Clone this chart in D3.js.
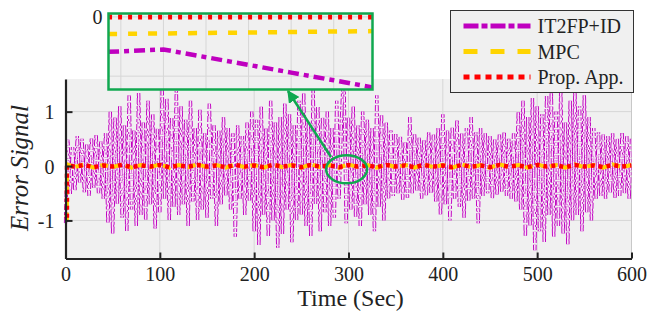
<!DOCTYPE html>
<html>
<head>
<meta charset="utf-8">
<script src="https://cdn.jsdelivr.net/npm/d3@7"></script>
<style>
  body { margin: 0; background: #fff; }
</style>
</head>
<body>
<svg id="chart" width="647" height="329"></svg>
<script>
// tick labels
const timeTicks = [0, 100, 200, 300, 400, 500, 600];
const errTicks = [-1, 0, 1];
const seriesNames = ['IT2FP+ID', 'MPC', 'Prop. App.'];

// IT2FP+ID error, one sample every 2.5 s
const it2fpStep = 2.5;
const it2fpValues = [
  -1.05, 0.48, -0.52, 0.35, -0.45, 0.55, -0.3, 0.5, -0.48, 0.4,
  -0.55, 0.52, -0.4, 0.58, -0.5, 0.45, -0.6, 0.62, -1.05, 1.0,
  -1.25, 0.9, -0.7, 1.1, -0.95, 0.75, -1.2, 1.3, -0.8, 0.65,
  -1.1, 1.35, -0.9, 0.8, -1.0, 1.2, -0.7, 0.95, -1.15, 0.7,
  -0.85, 1.4, -0.6, 1.25, -1.0, 0.9, -0.75, 1.38, -0.9, 1.1,
  -0.7, 0.85, -1.1, 1.2, -0.65, 0.7, -1.0, 1.05, -0.8, 0.6,
  -0.95, 1.15, -0.6, 0.75, -1.1, 0.65, -0.7, 0.9, -0.55, 0.7,
  -0.8, 0.6, -1.3, 0.75, -0.6, 0.55, -0.9, 0.8, -0.65, 1.0,
  -1.2, 0.85, -1.45, 1.1, -0.9, 0.7, -1.3, 1.2, -1.0, 0.8,
  -1.5, 0.9, -1.25, 1.15, -0.8, 0.95, -1.4, 0.75, -1.0, 1.2,
  -0.9, 1.35, -1.1, 0.8, -1.3, 1.4, -0.7, 1.1, -1.2, 0.9,
  -0.85, 1.0, -1.1, 0.7, -0.95, 1.2, -0.6, 0.85, 1.8, -1.05,
  0.9, -0.8, 1.1, -0.95, 0.75, -1.1, 1.0, -0.7, 0.85, -0.9,
  0.7, -1.2, 1.3, -0.75, 0.95, -1.0, 0.8, -0.6, 0.65, -0.55,
  0.6, -0.5, 0.55, -0.62, 0.45, -0.58, 0.9, -0.5, 0.6, -0.45,
  0.52, -0.6, 0.48, -0.55, 0.62, -0.5, 0.58, -0.65, 0.7, -0.9,
  0.95, -0.7, 0.65, -1.0, 0.72, -0.6, 0.85, -0.75, 0.6, -0.95,
  0.7, -0.65, 0.9, -0.6, 0.62, -1.05, 0.7, -0.55, 0.6, -0.5,
  0.55, -0.6, 0.5, -0.52, 0.58, -0.48, 0.62, -0.55, 0.5, -0.6,
  0.6, -0.65, 1.0, -0.8, 1.2, -1.3, 0.9, -1.1, 1.25, -1.55,
  1.1, -1.2, 0.95, -1.4, 1.3, -0.9, 1.35, -1.3, 1.0, -1.1,
  1.4, -1.25, 0.8, -1.45, 1.2, -1.0, 1.38, -0.9, 1.1, -1.2,
  1.3, -0.85, 0.9, -1.0, 0.7, -0.6, 0.62, -0.55, 0.58, -0.6,
  0.55, -0.5, 0.6, -0.58, 0.5, -0.55, 0.62, -0.5, 0.55, -0.6,
  0.5
];

// MPC and proposed approach: start near -1, then a thin band around 0
const propTimes = [1.5, 1.6, 10, 20, 30, 40, 50, 60, 70, 80, 90, 100, 110, 120, 130, 140, 150,
  160, 170, 180, 190, 200, 210, 220, 230, 240, 250, 260, 270, 280, 290, 300, 310, 320, 330,
  340, 350, 360, 370, 380, 390, 400, 410, 420, 430, 440, 450, 460, 470, 480, 490, 500, 510,
  520, 530, 540, 550, 560, 570, 580, 590, 600];
const mpcValues = [-1.0, 0.03, -0.02, 0.03, -0.03, 0.02, -0.02, 0.03, -0.03, 0.02, -0.02,
  0.03, -0.03, 0.02, -0.02, 0.03, -0.02, 0.02, -0.03, 0.03, -0.02, 0.02, -0.03, 0.03, -0.02,
  0.02, -0.03, 0.03, -0.02, 0.02, -0.03, 0.03, -0.02, 0.02, -0.03, 0.03, -0.02, 0.02, -0.03,
  0.03, -0.02, 0.02, -0.03, 0.03, -0.02, 0.02, -0.03, 0.03, -0.02, 0.02, -0.03, 0.03, -0.02,
  0.02, -0.03, 0.03, -0.02, 0.02, -0.03, 0.03, -0.02, 0.02];
const propValues = [-0.95, 0.01, -0.01, 0.02, -0.02, 0.01, -0.01, 0.02, -0.02, 0.01, -0.01,
  0.02, -0.02, 0.01, -0.01, 0.02, -0.01, 0.01, -0.02, 0.02, -0.01, 0.01, -0.02, 0.02, -0.01,
  0.01, -0.02, 0.02, -0.01, 0.01, -0.02, 0.02, -0.01, 0.01, -0.02, 0.02, -0.01, 0.01, -0.02,
  0.02, -0.01, 0.01, -0.02, 0.02, -0.01, 0.01, -0.02, 0.02, -0.01, 0.01, -0.02, 0.02, -0.01,
  0.01, -0.02, 0.02, -0.01, 0.01, -0.02, 0.02, -0.01, 0.01];

// zoomed window around t = 300 s
const insetTicks = [300, 300.5, 301, 301.5, 302, 302.5];
const insetYTicks = [0, -0.1];
const insetIt2fpT = [299.85, 300.5, 301, 301.5, 302, 302.5, 302.96];
const insetIt2fpV = [-0.059, -0.055, -0.068, -0.081, -0.094, -0.107, -0.119];
const insetMpcT = [299.85, 302.96];
const insetMpcV = [-0.029, -0.024];
const insetPropT = [299.85, 302.96];
const insetPropV = [0, 0];

const colors = { it2fp: '#bf00bf', mpc: '#ffd400', prop: '#ff0000' };
const green = '#10a850';
const serif = '"Liberation Serif", "Times New Roman", Times, "DejaVu Serif", serif';

const svg = d3.select('#chart');
const margin = { left: 65.5, right: 15.5, top: 79, bottom: 70.5 };
const width = 647 - margin.left - margin.right;
const height = 329 - margin.top - margin.bottom;

const x = d3.scaleLinear().domain([0, 600]).range([0, width]);
const y = d3.scaleLinear().domain([-1.7, 1.6]).range([height, 0]);

const g = svg.append('g').attr('transform', `translate(${margin.left},${margin.top})`);

g.append('rect')
  .attr('width', width)
  .attr('height', height)
  .attr('fill', '#f0f0f0');

const defs = svg.append('defs');
defs.append('clipPath').attr('id', 'plotClip')
  .append('rect').attr('x', -2).attr('width', width + 2).attr('height', height);

// grid
g.append('g').selectAll('line')
  .data(timeTicks.slice(1, -1))
  .enter().append('line')
  .attr('x1', d => x(d)).attr('x2', d => x(d))
  .attr('y1', 0).attr('y2', height)
  .attr('stroke', '#d6d6d6');
g.append('g').selectAll('line')
  .data(errTicks)
  .enter().append('line')
  .attr('x1', 0).attr('x2', width)
  .attr('y1', d => y(d)).attr('y2', d => y(d))
  .attr('stroke', '#d6d6d6');
g.append('line')
  .attr('x1', width).attr('x2', width).attr('y1', 0).attr('y2', height)
  .attr('stroke', '#c8c8c8');

const plot = g.append('g').attr('clip-path', 'url(#plotClip)');

const it2fpData = it2fpValues.map((v, i) => [i * it2fpStep, v]);
const mpcData = propTimes.map((t, i) => [t, mpcValues[i]]);
const propData = propTimes.map((t, i) => [t, propValues[i]]);

const line = d3.line().x(d => x(d[0])).y(d => y(d[1]));

// dense dash-dot trace: a wide magenta stroke with a pale core gives the hollow-box look
plot.append('path')
  .datum(it2fpData)
  .attr('d', line)
  .attr('fill', 'none')
  .attr('stroke', colors.it2fp)
  .attr('stroke-width', 3.4)
  .attr('stroke-dasharray', '6,2,3,2');
plot.append('path')
  .datum(it2fpData)
  .attr('d', line)
  .attr('fill', 'none')
  .attr('stroke', '#f8e4f8')
  .attr('stroke-width', 1.5)
  .attr('stroke-dasharray', '6,2,3,2');

plot.append('path')
  .datum(mpcData)
  .attr('d', line)
  .attr('fill', 'none')
  .attr('stroke', colors.mpc)
  .attr('stroke-width', 4)
  .attr('stroke-dasharray', '8,5');

plot.append('path')
  .datum(propData)
  .attr('d', line)
  .attr('fill', 'none')
  .attr('stroke', colors.prop)
  .attr('stroke-width', 4.5)
  .attr('stroke-dasharray', '4,4');

// axes, ticks pointing inward
const xAxis = g.append('g')
  .attr('transform', `translate(0,${height})`)
  .call(d3.axisBottom(x).tickValues(timeTicks).tickSizeInner(-6).tickSizeOuter(0).tickPadding(8));
const yAxis = g.append('g')
  .call(d3.axisLeft(y).tickValues(errTicks).tickSizeInner(-7).tickSizeOuter(0).tickPadding(11)
    .tickFormat(d => String(d)));

[xAxis, yAxis].forEach(a => {
  a.select('.domain').attr('stroke', '#222').attr('stroke-width', 2.2);
  a.selectAll('.tick line').attr('stroke', '#222').attr('stroke-width', 2);
  a.selectAll('.tick text').attr('font-size', 20).attr('fill', '#222');
});
yAxis.selectAll('.tick text').attr('dy', '0.36em');

svg.append('text')
  .attr('x', margin.left + width / 2 + 2)
  .attr('y', 306)
  .attr('text-anchor', 'middle')
  .attr('font-size', 24)
  .text('Time (Sec)');

svg.append('text')
  .attr('transform', `translate(28,${margin.top + y(0) + 2}) rotate(-90)`)
  .attr('text-anchor', 'middle')
  .attr('font-size', 25)
  .attr('font-style', 'italic')
  .text('Error Signal');

// highlight ellipse and arrow to the inset
svg.append('ellipse')
  .attr('cx', margin.left + x(298))
  .attr('cy', margin.top + y(-0.06))
  .attr('rx', 20.5)
  .attr('ry', 14)
  .attr('fill', 'none')
  .attr('stroke', green)
  .attr('stroke-width', 2.5);

defs.append('marker')
  .attr('id', 'arrowHead')
  .attr('viewBox', '0 0 10 10')
  .attr('refX', 9).attr('refY', 5)
  .attr('markerWidth', 5).attr('markerHeight', 5)
  .attr('orient', 'auto')
  .append('path').attr('d', 'M0,0L10,5L0,10z').attr('fill', green);

svg.append('line')
  .attr('x1', 331).attr('y1', 157)
  .attr('x2', 288).attr('y2', 91)
  .attr('stroke', green)
  .attr('stroke-width', 2.5)
  .attr('marker-end', 'url(#arrowHead)');

// inset
const inset = { left: 108.5, top: 13.5, width: 264, height: 76 };
const ix = d3.scaleLinear().domain([299.855, 302.955]).range([0, inset.width]);
const iy = d3.scaleLinear().domain([-0.1225, 0.0057]).range([inset.height, 0]);
const ig = svg.append('g').attr('transform', `translate(${inset.left},${inset.top})`);

ig.append('rect')
  .attr('width', inset.width)
  .attr('height', inset.height)
  .attr('fill', '#f0f0f0');
defs.append('clipPath').attr('id', 'insetClip')
  .append('rect').attr('width', inset.width).attr('height', inset.height);

ig.append('g').selectAll('line')
  .data(insetTicks)
  .enter().append('line')
  .attr('x1', d => ix(d)).attr('x2', d => ix(d))
  .attr('y1', 0).attr('y2', inset.height)
  .attr('stroke', '#d6d6d6');
ig.append('g').selectAll('line')
  .data(insetYTicks)
  .enter().append('line')
  .attr('x1', 0).attr('x2', inset.width)
  .attr('y1', d => iy(d)).attr('y2', d => iy(d))
  .attr('stroke', '#d6d6d6');

const iline = d3.line().x(d => ix(d[0])).y(d => iy(d[1]));
const insetSeries = [
  { key: 'it2fp', data: insetIt2fpT.map((t, i) => [t, insetIt2fpV[i]]), w: 4.5, dash: '11,5,5,5' },
  { key: 'mpc', data: insetMpcT.map((t, i) => [t, insetMpcV[i]]), w: 4.5, dash: '9,11' },
  { key: 'prop', data: insetPropT.map((t, i) => [t, insetPropV[i]]), w: 5, dash: '4,6' }
];
ig.append('g').attr('clip-path', 'url(#insetClip)')
  .selectAll('path')
  .data(insetSeries)
  .enter().append('path')
  .attr('d', d => iline(d.data))
  .attr('fill', 'none')
  .attr('stroke', d => colors[d.key])
  .attr('stroke-width', d => d.w)
  .attr('stroke-dasharray', d => d.dash);

ig.append('rect')
  .attr('width', inset.width)
  .attr('height', inset.height)
  .attr('fill', 'none')
  .attr('stroke', green)
  .attr('stroke-width', 2.5);

ig.append('text')
  .attr('x', -11)
  .attr('y', iy(0))
  .attr('dy', '0.36em')
  .attr('text-anchor', 'middle')
  .attr('font-size', 20)
  .text('0');

// legend
const legend = svg.append('g').attr('transform', 'translate(450.5,10.5)');
legend.append('rect')
  .attr('width', 183)
  .attr('height', 82)
  .attr('fill', '#f0f0f0')
  .attr('stroke', '#333')
  .attr('stroke-width', 1);

const legendKeys = ['it2fp', 'mpc', 'prop'];
const legendDash = { it2fp: '15,3,6,3', mpc: '14,13', prop: '6,5' };
const legendRow = d3.scaleLinear().domain([0, 2]).range([15.5, 66.5]);
const legendItems = legend.selectAll('g.item')
  .data(legendKeys)
  .enter().append('g')
  .attr('transform', (d, i) => `translate(0,${legendRow(i)})`);

legendItems.append('line')
  .attr('x1', 13).attr('x2', 80)
  .attr('stroke', d => colors[d])
  .attr('stroke-width', 5)
  .attr('stroke-dasharray', d => legendDash[d]);

legendItems.append('text')
  .attr('x', 87)
  .attr('dy', '0.35em')
  .attr('font-size', 20)
  .text((d, i) => seriesNames[i]);

svg.selectAll('text')
  .style('font-family', serif)
  .attr('fill', '#222');
</script>
</body>
</html>
